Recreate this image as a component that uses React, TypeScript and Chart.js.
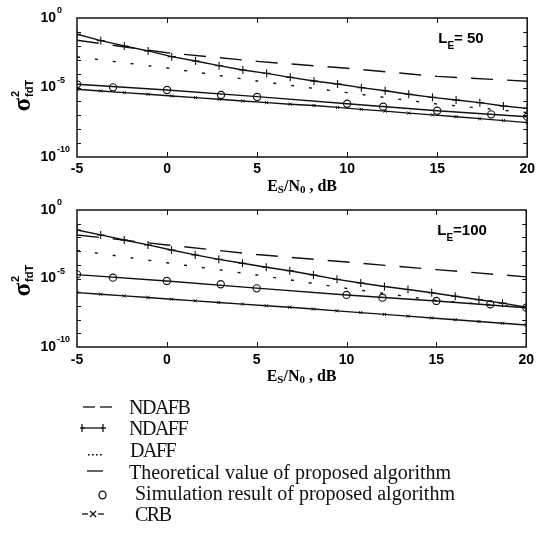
import React, { useEffect, useRef } from "react";
import { Chart, registerables } from "chart.js";
Chart.register(...registerables);

// ---------- data (values are log10 of sigma^2) ----------
const X_DENSE = [-5, -3.68, -2.37, -1.05, 0.26, 1.58, 2.89, 4.21, 5.53, 6.84, 8.16, 9.47, 10.79, 12.11, 13.42, 14.74, 16.05, 17.37, 18.68, 20];
const X_CURVE = [-5, 0, 5, 10, 15, 20];
const X_SIM = [-5, -3, 0, 3, 5, 10, 12, 15, 18, 20];
const X_TICKS = [-5, 0, 5, 10, 15, 20];
const Y_TICK_EXPONENTS = [0, -5, -10];

// L_E = 50
const NDAFB_50 = [-1.6, -2.5, -3.12, -3.62, -4.2, -4.55];
const NDAFF_50 = [-1.17, -1.63, -2.01, -2.37, -2.78, -3.09, -3.43, -3.74, -3.98, -4.27, -4.53, -4.75, -5.01, -5.23, -5.49, -5.71, -5.9, -6.09, -6.33, -6.5];
const DAFF_50 = [-2.8, -3.6, -4.53, -5.37, -6.19, -6.8];
const THEORY_50 = [-4.77, -5.18, -5.66, -6.17, -6.67, -7.1];
const SIM_50 = [-4.77, -4.99, -5.18, -5.54, -5.68, -6.17, -6.38, -6.67, -6.93, -7.1];
const CRB_50 = [-5.13, -5.25, -5.37, -5.49, -5.61, -5.73, -5.85, -5.97, -6.09, -6.2, -6.3, -6.43, -6.57, -6.7, -6.84, -6.97, -7.1, -7.24, -7.38, -7.53];

// L_E = 100
const NDAFB_100 = [-1.82, -2.55, -3.25, -3.8, -4.35, -4.88];
const NDAFF_100 = [-1.46, -1.82, -2.19, -2.55, -2.92, -3.28, -3.6, -3.89, -4.18, -4.43, -4.74, -5.06, -5.33, -5.58, -5.8, -6.04, -6.3, -6.55, -6.8, -7.1];
const DAFF_100 = [-2.95, -3.85, -4.74, -5.72, -6.6, -7.13];
const THEORY_100 = [-4.72, -5.18, -5.7, -6.2, -6.64, -7.13];
const SIM_100 = [-4.7, -4.94, -5.18, -5.42, -5.72, -6.2, -6.4, -6.64, -6.88, -7.13];
const CRB_100 = [-6.03, -6.15, -6.27, -6.39, -6.51, -6.63, -6.75, -6.87, -6.99, -7.1, -7.23, -7.36, -7.49, -7.62, -7.75, -7.88, -8.01, -8.14, -8.27, -8.39];

const LEGEND_LABELS = [
  "NDAFB",
  "NDAFF",
  "DAFF",
  "Theoretical value of proposed algorithm",
  "Simulation result of proposed algorithm",
  "CRB",
];

type Panel = {
  ndafb: number[];
  ndaff: number[];
  daff: number[];
  theory: number[];
  sim: number[];
  crb: number[];
  le: string;
  tickPad: number;
  xAxisH: number;
  sigmaStart: number;
};

const pts = (xs: number[], ys: number[]) => xs.map((x, i) => ({ x, y: Math.pow(10, ys[i]) }));
const INK = "#111";

function drawPieces(ctx: CanvasRenderingContext2D, pieces: { t: string; f: string; dy: number }[], x0: number, y: number, align: "left" | "center") {
  let total = 0;
  for (const p of pieces) { ctx.font = p.f; total += ctx.measureText(p.t).width; }
  let x = align === "center" ? x0 - total / 2 : x0;
  ctx.textAlign = "left";
  for (const p of pieces) {
    ctx.font = p.f;
    ctx.fillText(p.t, x, y + p.dy);
    x += ctx.measureText(p.t).width;
  }
}

function makeDecor(p: Panel) {
  return {
    id: "decor",
    afterDraw(chart: any) {
      const { ctx, chartArea: a, scales } = chart;
      const xs = scales.x, ys = scales.y;
      ctx.save();
      ctx.strokeStyle = INK;
      ctx.lineWidth = 1.5;
      ctx.strokeRect(a.left, a.top, a.right - a.left, a.bottom - a.top);
      ctx.beginPath();
      for (const v of X_TICKS) {
        if (v === -5 || v === 20) continue;
        const px = Math.round(xs.getPixelForValue(v)) + 0.5;
        ctx.moveTo(px, a.top); ctx.lineTo(px, a.top + 5);
        ctx.moveTo(px, a.bottom); ctx.lineTo(px, a.bottom - 5);
      }
      for (let e = -9; e <= -1; e++) {
        const py = Math.round(ys.getPixelForValue(Math.pow(10, e))) + 0.5;
        ctx.moveTo(a.left, py); ctx.lineTo(a.left + 4, py);
        ctx.moveTo(a.right, py); ctx.lineTo(a.right - 4, py);
      }
      ctx.lineWidth = 1;
      ctx.stroke();

      ctx.fillStyle = "#000";
      ctx.textBaseline = "middle";
      for (const e of Y_TICK_EXPONENTS) {
        const py = ys.getPixelForValue(Math.pow(10, e));
        ctx.font = 'bold 14px "Liberation Sans"';
        ctx.textAlign = "right";
        ctx.fillText("10", a.left - 21, py);
        ctx.font = 'bold 9px "Liberation Sans"';
        ctx.textAlign = "left";
        ctx.fillText(String(e), a.left - 20, py - 7);
      }

      // x title
      const cx = (a.left + a.right) / 2;
      const serif = (s: number) => `bold ${s}px "Liberation Serif"`;
      drawPieces(ctx, [
        { t: "E", f: serif(16), dy: 0 },
        { t: "S", f: serif(11), dy: 3 },
        { t: "/N", f: serif(16), dy: 0 },
        { t: "0", f: serif(11), dy: 3 },
        { t: " , dB", f: serif(16), dy: 0 },
      ], cx, a.bottom + 30, "center");

      // L_E label
      const lx = a.right - 89, ly = a.top + 21;
      drawPieces(ctx, [
        { t: "L", f: 'bold 15px "Liberation Sans"', dy: 0 },
        { t: "E", f: 'bold 10px "Liberation Sans"', dy: 7 },
        { t: p.le, f: 'bold 15px "Liberation Sans"', dy: 0 },
      ], lx, ly, "left");

      // y title (rotated)
      const cy = (a.top + a.bottom) / 2;
      ctx.translate(24, cy);
      ctx.rotate(-Math.PI / 2);
      ctx.font = 'bold 25px "Liberation Serif"';
      ctx.textAlign = "left";
      ctx.fillText("σ", p.sigmaStart, 0);
      const w = ctx.measureText("σ").width;
      ctx.font = 'bold 11px "Liberation Sans"';
      ctx.fillText("2", p.sigmaStart + w + 1, -8);
      ctx.fillText("fdT", p.sigmaStart + w + 1, 6);
      ctx.restore();
    },
  };
}

function makeConfig(p: Panel): any {
  const lw = 1.4;
  return {
    type: "line",
    data: {
      datasets: [
        { data: pts(X_CURVE, p.ndafb), borderColor: INK, borderWidth: lw, borderDash: [22, 14], pointRadius: 0, fill: false },
        { data: pts(X_DENSE, p.ndaff), borderColor: INK, borderWidth: lw, pointStyle: "cross", pointRadius: 4, pointBorderWidth: 1.1, pointBorderColor: INK, fill: false },
        { data: pts(X_CURVE, p.daff), borderColor: INK, borderWidth: lw, borderDash: [3, 15], pointRadius: 0, fill: false },
        { data: pts(X_CURVE, p.theory), borderColor: INK, borderWidth: lw, pointRadius: 0, fill: false },
        { data: pts(X_SIM, p.sim), showLine: false, borderColor: INK, pointStyle: "circle", pointRadius: 3.6, pointBorderWidth: 1.1, pointBorderColor: INK, pointBackgroundColor: "rgba(0,0,0,0)" },
        { data: pts(X_DENSE, p.crb), borderColor: INK, borderWidth: lw, pointStyle: "crossRot", pointRadius: 2.2, pointBorderWidth: 1, pointBorderColor: INK, fill: false },
      ],
    },
    options: {
      animation: false,
      responsive: false,
      devicePixelRatio: 1,
      layout: { padding: { left: 0, right: 8, top: 18, bottom: 0 } },
      plugins: { legend: { display: false }, tooltip: { enabled: false } },
      elements: { line: { tension: 0 } },
      scales: {
        x: {
          type: "linear", min: -5, max: 20,
          afterBuildTicks: (s: any) => { s.ticks = X_TICKS.map((v) => ({ value: v })); },
          afterFit: (s: any) => { s.height = p.xAxisH; },
          grid: { display: false, drawTicks: false },
          border: { display: false },
          ticks: { color: "#000", padding: p.tickPad, font: { family: "Liberation Sans", size: 14, weight: "bold" } },
        },
        y: {
          type: "logarithmic", min: 1e-10, max: 1,
          afterFit: (s: any) => { s.width = 77; },
          grid: { display: false, drawTicks: false },
          border: { display: false },
          ticks: { display: false },
        },
      },
    },
    plugins: [makeDecor(p)],
  };
}

const PANEL_50: Panel = { ndafb: NDAFB_50, ndaff: NDAFF_50, daff: DAFF_50, theory: THEORY_50, sim: SIM_50, crb: CRB_50, le: "= 50", tickPad: 4, xAxisH: 43, sigmaStart: -24 };
const PANEL_100: Panel = { ndafb: NDAFB_100, ndaff: NDAFF_100, daff: DAFF_100, theory: THEORY_100, sim: SIM_100, crb: CRB_100, le: "=100", tickPad: 5, xAxisH: 45, sigmaStart: -18 };

function PanelChart({ panel, top }: { panel: Panel; top: number }) {
  const ref = useRef<HTMLCanvasElement | null>(null);
  useEffect(() => {
    if (!ref.current) return;
    const chart = new Chart(ref.current, makeConfig(panel));
    return () => chart.destroy();
  }, [panel]);
  return (
    <canvas ref={ref} width={539} height={200}
      style={{ position: "absolute", left: 0, top, width: 539, height: 200, display: "block" }} />
  );
}

function Symbol({ i }: { i: number }) {
  const s = { stroke: INK, strokeWidth: 1.3, fill: "none" } as any;
  const w = 36, h = 16, m = 8;
  let content: React.ReactNode = null;
  if (i === 0) content = (<g {...s}><line x1={3} y1={m} x2={15} y2={m} /><line x1={20} y1={m} x2={32} y2={m} /></g>);
  if (i === 1) content = (<g {...s}><line x1={2} y1={m} x2={23} y2={m} /><line x1={2} y1={m - 4} x2={2} y2={m + 4} /><line x1={23} y1={m - 4} x2={23} y2={m + 4} /><line x1={0} y1={m} x2={5} y2={m} /><line x1={21} y1={m} x2={26} y2={m} /></g>);
  if (i === 2) content = (<g fill={INK}>{[8, 12, 16, 20].map((x) => <rect key={x} x={x} y={m + 4} width={1.6} height={1.6} />)}</g>);
  if (i === 3) content = (<g {...s}><line x1={7} y1={m - 1} x2={23} y2={m - 1} /></g>);
  if (i === 4) content = (<g {...s}><ellipse cx={22.5} cy={m + 2} rx={3.5} ry={3.8} /></g>);
  if (i === 5) content = (<g {...s}><line x1={2} y1={m} x2={8} y2={m} /><line x1={10} y1={m - 3} x2={16} y2={m + 3} /><line x1={10} y1={m + 3} x2={16} y2={m - 3} /><line x1={18} y1={m} x2={24} y2={m} /></g>);
  return <svg width={w} height={h} style={{ position: "absolute", left: 0, top: 0 }}>{content}</svg>;
}

const ROW_Y = [407, 428, 450, 472, 493, 514];
const TEXT_X = [129, 129, 130, 129, 135, 135];
const CAPS = [true, true, true, false, false, true];

export default function App() {
  return (
    <div style={{ position: "absolute", left: 0, top: 0, width: 539, height: 536, background: "#fff", overflow: "hidden" }}>
      <PanelChart panel={PANEL_50} top={0} />
      <PanelChart panel={PANEL_100} top={192} />
      {LEGEND_LABELS.map((lab, i) => (
        <React.Fragment key={lab}>
          <div style={{ position: "absolute", left: 80, top: ROW_Y[i] - 8, width: 36, height: 16 }}>
            <Symbol i={i} />
          </div>
          <div style={{ position: "absolute", left: TEXT_X[i], top: ROW_Y[i] - 12, fontFamily: '"Liberation Serif"', fontSize: 20, lineHeight: "24px", letterSpacing: CAPS[i] ? "-1.5px" : "0px", color: INK, whiteSpace: "nowrap" }}>
            {lab}
          </div>
        </React.Fragment>
      ))}
    </div>
  );
}
